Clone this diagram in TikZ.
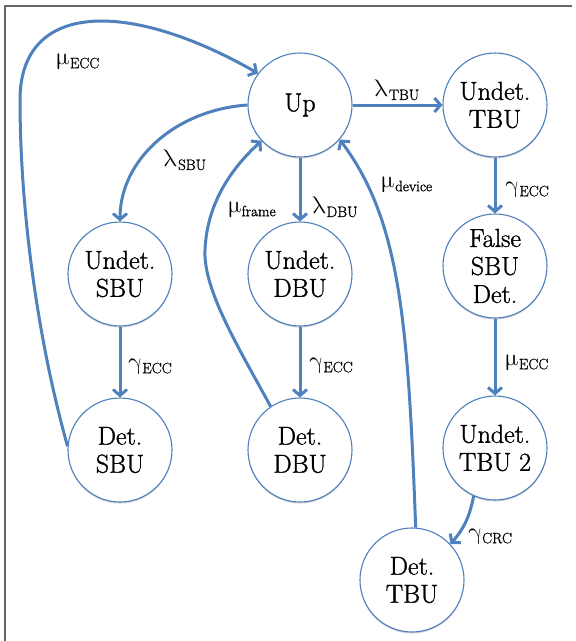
\documentclass[tikz,border=0pt]{standalone}
\usepackage{fontspec}
\usepackage{unicode-math}
\setmainfont{Latin Modern Roman}[FakeBold=1.2]
\usetikzlibrary{arrows.meta,shadows}
\definecolor{ofblue}{RGB}{79,129,189}
\newcommand\lab[2]{{\fontsize{24}{24}\selectfont$\symup{#1}$}\raisebox{-3.5pt}{\fontsize{15}{15}\selectfont #2}}
\tikzset{
  state/.style={circle, draw=ofblue, line width=1.1pt, fill=white, minimum size=104pt, inner sep=0pt,
    align=center, font=\fontsize{26}{28}\selectfont,
    drop shadow={shadow xshift=0pt, shadow yshift=-1.5pt, opacity=0.18, fill=black}},
  conn/.style={draw=ofblue, line width=3pt, -{Straight Barb[length=6pt,width=14pt]}},
  lbl/.style={inner sep=0pt, text=black},
  frame/.style={draw=black!60, line width=1.5pt}
}
\begin{document}
\begin{tikzpicture}[x=1pt,y=-1pt]
\useasboundingbox (0,0) rectangle (576,641);
\fill[white] (0,0) rectangle (576,641);
\draw[frame] (5,641) -- (5,6) -- (572,6);

\node[state] (up)    at (300,105) {Up};
\node[state] (utbu)  at (495,105) {Undet.\\TBU};
\node[state] (fsbu)  at (495,266) {False\\SBU\\Det.};
\node[state] (utbu2) at (495,448) {Undet.\\TBU 2};
\node[state] (dtbu)  at (412,580) {Det.\\TBU};
\node[state] (usbu)  at (120,274) {Undet.\\SBU};
\node[state] (dsbu)  at (120,450) {Det.\\SBU};
\node[state] (udbu)  at (300,274) {Undet.\\DBU};
\node[state] (ddbu)  at (300,450) {Det.\\DBU};

\draw[conn] (up) -- (utbu);
\draw[conn] (up) -- (udbu);
\draw[conn] (udbu) -- (ddbu);
\draw[conn] (usbu) -- (dsbu);
\draw[conn] (utbu) -- (fsbu);
\draw[conn] (fsbu) -- (utbu2);
\draw[conn] (utbu2.-114) to[bend left=15] (dtbu.43);
\draw[conn] (up.180) .. controls (175,110) and (120,160) .. (usbu.north);
\draw[conn] (dsbu.176) .. controls (35,330) and (20,200) .. (20,100) .. controls (20,0) and (130,0) .. (up.143);
\draw[conn] (ddbu.124) .. controls (240,350) and (203,290) .. (205,250) .. controls (207,200) and (235,165) .. (up.-137);
\draw[conn] (dtbu.86) .. controls (408,320) and (400,220) .. (up.-41);

\node[lbl] (l1) at (78,62) {\lab{\mu}{ECC}};
\node[lbl] (l2) at (185,160) {\lab{\lambda}{SBU}};
\node[lbl] (l3) at (397,90) {\lab{\lambda}{TBU}};
\node[lbl] (l4) at (252,210) {\lab{\mu}{frame}};
\node[lbl] (l5) at (335,207) {\lab{\lambda}{DBU}};
\node[lbl] (l6) at (407,185) {\lab{\mu}{device}};
\node[lbl] (l7) at (527,190) {\lab{\gamma}{ECC}};
\node[lbl] (l8) at (150,367) {\lab{\gamma}{ECC}};
\node[lbl] (l9) at (331,366) {\lab{\gamma}{ECC}};
\node[lbl] (l10) at (527,363) {\lab{\mu}{ECC}};
\node[lbl] (l11) at (490,537) {\lab{\gamma}{CRC}};
\end{tikzpicture}
\end{document}
